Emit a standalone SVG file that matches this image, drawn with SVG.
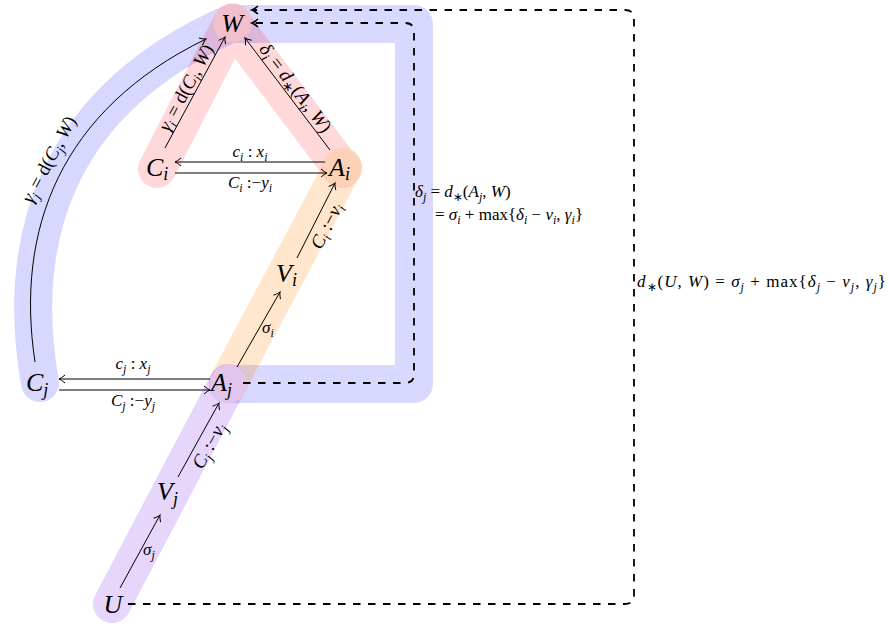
<svg xmlns="http://www.w3.org/2000/svg" width="889" height="627" viewBox="0 0 889 627">
<style>
text{font-family:"Liberation Serif","Times New Roman",serif;font-style:italic;fill:#000}
.n{font-size:26px}
.l{font-size:17px}
.r{font-size:19px}
.u{font-style:normal}
.sn{font-size:18px}
.sl{font-size:12px}
.sr{font-size:13px}
.band{fill:none;stroke-linecap:round;stroke-linejoin:round;stroke-width:38}
.e{fill:none;stroke:#000;stroke-width:1}
.d{fill:none;stroke:#000;stroke-width:1.8;stroke-dasharray:7.5 7.5}
</style>
<defs>
<marker id="ar" viewBox="-8 -5 10 10" refX="0" refY="0" markerWidth="10" markerHeight="10" markerUnits="userSpaceOnUse" orient="auto"><path d="M-6,-4 Q-2,-0.6 0,0 Q-2,0.6 -6,4" fill="none" stroke="#000" stroke-width="1"/></marker>
<marker id="ard" viewBox="-8 -5 10 10" refX="0" refY="0" markerWidth="10" markerHeight="10" markerUnits="userSpaceOnUse" orient="auto"><path d="M-6,-4 Q-2,-0.6 0,0 Q-2,0.6 -6,4" fill="none" stroke="#000" stroke-width="1.6"/></marker>
</defs>
<g id="highlights">
<g opacity="0.15" stroke="#0000ff" class="band"><path d="M40,383 C15,240 55,100 232,23"/><path d="M232,24 L414,24 L414,384 L228,384"/></g>
<g opacity="0.15" stroke="#ff0000" class="band"><path d="M157,169 L232,23 L342,169"/></g>
<g opacity="0.2" stroke="#ff8000" class="band"><path d="M342,169 L228,383"/></g>
<g opacity="0.2" stroke="#8232f0" class="band"><path d="M228,383 L112,604"/></g>
</g>
<g id="W"><circle cx="232.5" cy="23" r="19.5" fill="#f2bfcc"/><text class="n" x="232" y="32" text-anchor="middle">W</text></g>
<g id="Ci"><text class="n" x="146" y="176">C<tspan class="sn" dy="4">i</tspan></text></g>
<g id="Ai"><circle cx="342.5" cy="167.5" r="19.5" fill="#fbd1b8"/><text class="n" x="329" y="176">A<tspan class="sn" dy="4">i</tspan></text></g>
<g id="Vi"><text class="n" x="276" y="282">V<tspan class="sn" dy="4">i</tspan></text></g>
<g id="Aj"><circle cx="228.5" cy="384" r="19" fill="#e3c5ec"/><text class="n" x="211" y="391">A<tspan class="sn" dy="5">j</tspan></text></g>
<g id="Cj"><text class="n" x="26" y="391">C<tspan class="sn" dy="5">j</tspan></text></g>
<g id="Vj"><text class="n" x="157" y="500">V<tspan class="sn" dy="5">j</tspan></text></g>
<g id="U"><text class="n" x="113" y="613" text-anchor="middle">U</text></g>
<g id="connectors">
<path class="e" d="M165,148 L225,37" marker-end="url(#ar)"/>
<path class="e" d="M330,150 L245,38" marker-end="url(#ar)"/>
<path class="e" d="M325,162 L175,162" marker-end="url(#ar)"/>
<path class="e" d="M175,173 L327,173" marker-end="url(#ar)"/>
<path class="e" d="M237,367 L280,292" marker-end="url(#ar)"/>
<path class="e" d="M297,258 L335,183" marker-end="url(#ar)"/>
<path class="e" d="M210,379 L59,379" marker-end="url(#ar)"/>
<path class="e" d="M59,390 L210,390" marker-end="url(#ar)"/>
<path class="e" d="M120,588 L160,515" marker-end="url(#ar)"/>
<path class="e" d="M178,477 L219,403" marker-end="url(#ar)"/>
<path class="e" d="M35,362 C15,230 60,110 206,39" marker-end="url(#ar)"/>
<path class="d" d="M243,383 L405,383 Q414,383 414,374 L414,32 Q414,23 405,23 L252,23" marker-end="url(#ard)"/>
<path class="d" d="M128,604 L625,604 Q634,604 634,595 L634,19 Q634,10 625,10 L252,10" marker-end="url(#ard)"/>
</g>
<g id="labels">
<text class="r" transform="translate(195,92.5) rotate(-61.6)" x="0" y="-4" text-anchor="middle">γ<tspan class="sr" dy="4">i</tspan><tspan class="u" dy="-4"> = d(</tspan>C<tspan class="sr" dy="4">i</tspan><tspan class="u" dy="-4">, </tspan>W<tspan class="u">)</tspan></text>
<text class="r" transform="translate(287.5,94) rotate(52.8)" x="0" y="-4" text-anchor="middle">δ<tspan class="sr" dy="4">i</tspan><tspan class="u" dy="-4"> = </tspan>d<tspan class="sr u" dy="4">∗</tspan><tspan class="u" dy="-4">(</tspan>A<tspan class="sr" dy="4">i</tspan><tspan class="u" dy="-4">, </tspan>W<tspan class="u">)</tspan></text>
<text class="r" transform="translate(316,220.5) rotate(-63)" x="0" y="18" text-anchor="middle">C<tspan class="sr" dy="4">i</tspan><tspan class="u" dy="-4"> :−</tspan>v<tspan class="sr" dy="4">i</tspan></text>
<text class="r" transform="translate(198.5,440) rotate(-61)" x="0" y="18" text-anchor="middle">C<tspan class="sr" dy="4">j</tspan><tspan class="u" dy="-4"> :−</tspan>v<tspan class="sr" dy="4">j</tspan></text>
<text class="r" transform="translate(50,160) rotate(-62)" x="0" y="5" text-anchor="middle">γ<tspan class="sr" dy="4">j</tspan><tspan class="u" dy="-4"> = d(</tspan>C<tspan class="sr" dy="4">j</tspan><tspan class="u" dy="-4">, </tspan>W<tspan class="u">)</tspan></text>
<text class="l" x="250" y="157" text-anchor="middle">c<tspan class="sl" dy="3.5">i</tspan><tspan class="u" dy="-3.5"> : </tspan>x<tspan class="sl" dy="3.5">i</tspan></text>
<text class="l" x="250" y="188" text-anchor="middle">C<tspan class="sl" dy="3.5">i</tspan><tspan class="u" dy="-3.5"> :−</tspan>y<tspan class="sl" dy="3.5">i</tspan></text>
<text class="l" x="133" y="369" text-anchor="middle">c<tspan class="sl" dy="3.5">j</tspan><tspan class="u" dy="-3.5"> : </tspan>x<tspan class="sl" dy="3.5">j</tspan></text>
<text class="l" x="133" y="406" text-anchor="middle">C<tspan class="sl" dy="3.5">j</tspan><tspan class="u" dy="-3.5"> :−</tspan>y<tspan class="sl" dy="3.5">j</tspan></text>
<text class="l" x="262" y="333">σ<tspan class="sl" dy="3.5">i</tspan></text>
<text class="l" x="143" y="555">σ<tspan class="sl" dy="3.5">j</tspan></text>
<text class="l" x="415" y="197">δ<tspan class="sl" dy="3.5">j</tspan><tspan class="u" dy="-3.5"> = </tspan>d<tspan class="sl u" dy="3.5">∗</tspan><tspan class="u" dy="-3.5">(</tspan>A<tspan class="sl" dy="3.5">j</tspan><tspan class="u" dy="-3.5">, </tspan>W<tspan class="u">)</tspan></text>
<text class="l" x="435" y="220"><tspan class="u">= </tspan>σ<tspan class="sl" dy="3.5">i</tspan><tspan class="u" dy="-3.5"> + max{</tspan>δ<tspan class="sl" dy="3.5">i</tspan><tspan class="u" dy="-3.5"> − </tspan>v<tspan class="sl" dy="3.5">i</tspan><tspan class="u" dy="-3.5">, </tspan>γ<tspan class="sl" dy="3.5">i</tspan><tspan class="u" dy="-3.5">}</tspan></text>
<text class="l" x="637" y="287" textLength="249" lengthAdjust="spacing">d<tspan class="sl u" dy="3.5">∗</tspan><tspan class="u" dy="-3.5">(</tspan>U<tspan class="u">, </tspan>W<tspan class="u">) = </tspan>σ<tspan class="sl" dy="3.5">j</tspan><tspan class="u" dy="-3.5"> + max{</tspan>δ<tspan class="sl" dy="3.5">j</tspan><tspan class="u" dy="-3.5"> − </tspan>v<tspan class="sl" dy="3.5">j</tspan><tspan class="u" dy="-3.5">, </tspan>γ<tspan class="sl" dy="3.5">j</tspan><tspan class="u" dy="-3.5">}</tspan></text>
</g>
</svg>
